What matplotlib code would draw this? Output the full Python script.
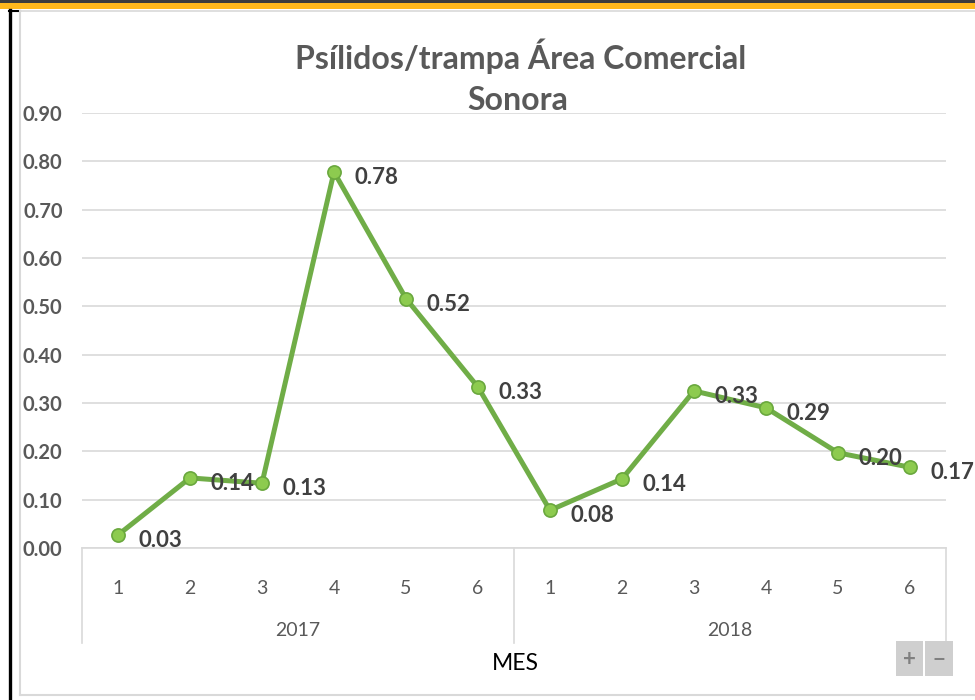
import matplotlib
matplotlib.use("Agg")
import matplotlib.pyplot as plt
from matplotlib.patches import Rectangle
from matplotlib.lines import Line2D
import matplotlib.transforms as mtransforms

# data
years = ["2017", "2018"]
months = ["1", "2", "3", "4", "5", "6"]
psilidos = [0.027, 0.145, 0.134, 0.778, 0.516, 0.333,
            0.078, 0.143, 0.325, 0.290, 0.197, 0.167]

plt.rcParams["font.family"] = ["Lato", "DejaVu Sans"]

W, H = 975, 700
fig = plt.figure(figsize=(W / 100, H / 100), dpi=100)
fig.patch.set_facecolor("white")


def fx(x):
    return x / W


def fy(y):
    return 1 - y / H


def rect(x, y, w, h, **kw):
    fig.add_artist(Rectangle((fx(x), fy(y + h)), w / W, h / H,
                             transform=fig.transFigure, lw=0, **kw))


def hline(x0, x1, y, **kw):
    fig.add_artist(Line2D([fx(x0), fx(x1)], [fy(y), fy(y)],
                          transform=fig.transFigure, **kw))


def vline(x, y0, y1, **kw):
    fig.add_artist(Line2D([fx(x), fx(x)], [fy(y0), fy(y1)],
                          transform=fig.transFigure, **kw))


# frame decorations around the chart
rect(0, 0, W, 2.5, color="#3c3c3c")
rect(0, 2.5, W, 6, color="#FFB81C")
vline(10, 10, H, color="black", lw=2.4)
hline(9, 20, 10.5, color="black", lw=1.5)
hline(20, W, 11, color="#d9d9d9", lw=1.2)
vline(20, 11, 695, color="#d9d9d9", lw=1.5)
hline(20, W, 695, color="#d9d9d9", lw=1.5)

# plot area
left, right, top, bottom = 82, 946, 113, 548
ax = fig.add_axes([fx(left), fy(bottom), (right - left) / W, (bottom - top) / H])

n = len(psilidos)
x = list(range(n))
ax.plot(x, psilidos, color="#70AD47", lw=3.6, marker="o", markersize=9.5,
        markerfacecolor="#8DCB4F", markeredgecolor="#6AA83E",
        markeredgewidth=1.2, zorder=3, solid_joinstyle="round")

for xi, v in zip(x, psilidos):
    ax.annotate(f"{v:.2f}", (xi, v), xytext=(15, -4), textcoords="offset points",
                ha="left", va="center", fontsize=16, fontweight="bold",
                color="#404040", zorder=4)

ax.set_xlim(-0.5, n - 0.5)
ax.set_ylim(0, 0.9)
ax.set_yticks([i / 10 for i in range(10)])
ax.set_yticklabels([f"{i / 10:.2f}" for i in range(10)], fontsize=14.5,
                   fontweight="bold", color="#595959")
ax.yaxis.grid(True, color="#d9d9d9", lw=1.2)
ax.set_axisbelow(True)
ax.tick_params(axis="y", length=0, pad=14)

ax.set_xticks(x)
ax.set_xticklabels(months * len(years), fontsize=14, color="#595959")
ax.tick_params(axis="x", length=0, pad=23)

for side in ["left", "right", "top"]:
    ax.spines[side].set_visible(False)
ax.spines["bottom"].set_color("#d9d9d9")
ax.spines["bottom"].set_linewidth(1.2)

# two-level category axis: group separators and year labels
trans = mtransforms.blended_transform_factory(ax.transData, ax.transAxes)
depth = -(643 - bottom) / (bottom - top)
for sep in [-0.5, 5.5, n - 0.5]:
    ax.plot([sep, sep], [0, depth], color="#d9d9d9", lw=1.2,
            transform=trans, clip_on=False)
for i, yr in enumerate(years):
    ax.text(i * 6 + 2.5, -(630 - bottom) / (bottom - top), yr, transform=trans,
            ha="center", va="center", fontsize=14, color="#595959")

# title and axis title
fig.text(fx(521), fy(56), "Psílidos/trampa Área Comercial", ha="center",
         va="center", fontsize=23, fontweight="bold", color="#595959")
fig.text(fx(518), fy(101), "Sonora", ha="center", va="center",
         fontsize=23, fontweight="bold", color="#595959")
fig.text(fx(515), fy(664), "MES", ha="center", va="center",
         fontsize=16.5, color="black")

# zoom buttons
rect(896, 641, 27, 35, color="#cfcfcf")
rect(925, 641, 28, 35, color="#cfcfcf")
fig.text(fx(909.5), fy(659), "+", ha="center", va="center", fontsize=16,
         fontweight="bold", color="#808080")
fig.text(fx(939), fy(659), "\u2212", ha="center", va="center", fontsize=16,
         fontweight="bold", color="#808080")

fig.savefig("out.png", dpi=100)
